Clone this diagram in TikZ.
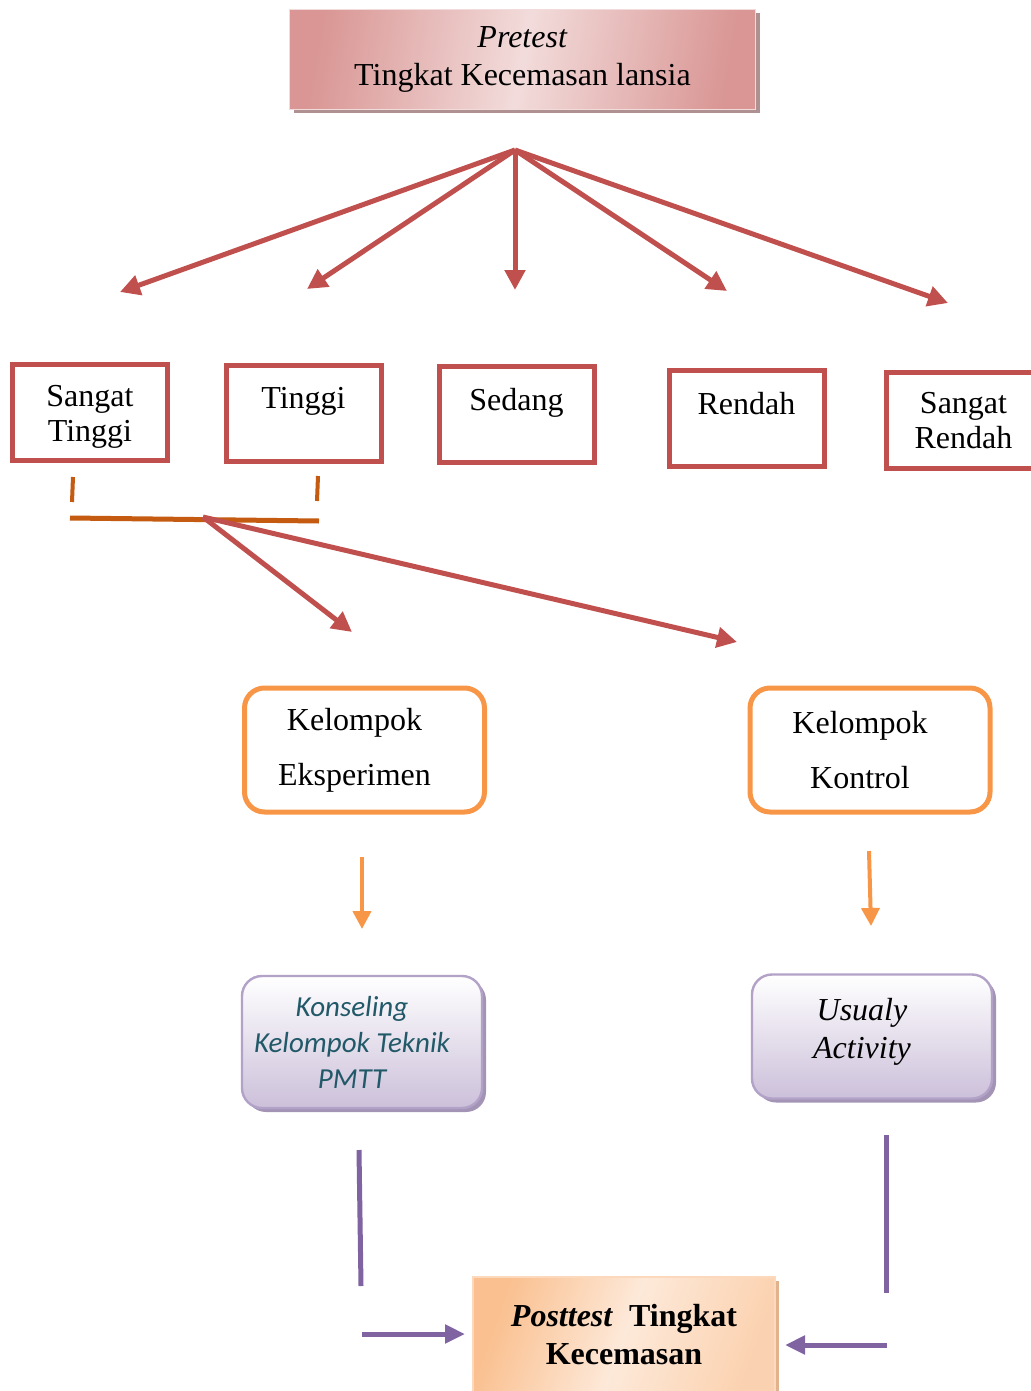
\documentclass[tikz,border=0pt]{standalone}
\usepackage{fontspec}
\setmainfont{Liberation Serif}
\newfontfamily\calibrifont{Carlito}
\usetikzlibrary{arrows.meta,shadows}
\definecolor{boxred}{HTML}{C0504D}
\definecolor{tickorange}{HTML}{C55A11}
\definecolor{boxorange}{HTML}{F79646}
\definecolor{linepurple}{HTML}{8064A2}
\definecolor{edgepurple}{HTML}{B3A2C7}
\definecolor{fillpurple}{HTML}{CCC0DA}
\definecolor{shadepurple}{HTML}{A394B6}
\definecolor{pinkdark}{HTML}{D99694}
\definecolor{pinklight}{HTML}{F2DCDB}
\definecolor{pinkshade}{HTML}{B09192}
\definecolor{peachdark}{HTML}{FAC090}
\definecolor{peachlight}{HTML}{FDE9D9}
\definecolor{tealtext}{HTML}{215968}
\def\levelw{77.5pt}
\def\levelh{48pt}
\def\nudge{\kern10pt}
\begin{document}
\begin{tikzpicture}[x=0.5pt,y=-0.5pt,
  redarrow/.style={boxred,line width=2.5pt,-{Triangle[length=10pt,width=10pt]}},
  orangearrow/.style={boxorange,line width=2pt,-{Triangle[length=9pt,width=9pt]}},
  purplearrow/.style={linepurple,line width=2.5pt,-{Triangle[length=10pt,width=9pt]}},
  levelbox/.style={draw=boxred,line width=2.5pt,minimum width=\levelw,minimum height=\levelh,align=center,inner sep=2pt,font=\fontsize{16}{17.5}\selectfont},
  levelone/.style={levelbox,text depth=15pt},
  leveltop/.style={levelbox,text height=33pt},
  groupbox/.style={draw=boxorange,line width=2.5pt,rounded corners=10pt,minimum width=120pt,minimum height=62pt,align=center,font=\fontsize{16}{27.5}\selectfont},
  actbox/.style={draw=edgepurple,line width=1.2pt,rounded corners=10pt,top color=white,bottom color=fillpurple,minimum width=120pt,align=center,drop shadow={shadow xshift=2pt,shadow yshift=-2pt,fill=shadepurple,opacity=1}}]
\useasboundingbox (0,0) rectangle (1031,1391);
\node[draw=pinklight,line width=0.8pt,minimum width=233pt,minimum height=50pt,align=center,left color=pinkdark,right color=pinkdark,middle color=pinklight,shading angle=80,drop shadow={shadow xshift=2pt,shadow yshift=-2pt,fill=pinkshade,opacity=1},font=\fontsize{16}{19}\selectfont] (pre) at (522.5,59.5) {\textit{Pretest}\\Tingkat Kecemasan lansia};
\coordinate (fan) at (515,150);
\foreach \i/\x/\y in {1/120/292,2/307/289,3/515/290,4/727/291,5/948/303} {
  \coordinate (tip\i) at (\x,\y);
  \draw[redarrow] (fan) -- (tip\i);
}
\foreach \n/\x/\y/\s/\t in {st/90/412/leveltop/{Sangat\\Tinggi},ti/303.5/413/levelone/Tinggi,se/516.5/414/levelone/Sedang,re/746.5/418/levelone/Rendah,sr/963.5/420.5/levelbox/{Sangat\\Rendah}} {
  \node[\s] (\n) at (\x,\y) {\t};
}
\coordinate (tickA1) at (73,477);
\coordinate (tickA2) at (72,502);
\coordinate (tickB1) at (318,476);
\coordinate (tickB2) at (317,501);
\coordinate (joinL) at (70,518);
\coordinate (joinR) at (319,521);
\draw[tickorange,line width=2pt] (tickA1) -- (tickA2);
\draw[tickorange,line width=2pt] (tickB1) -- (tickB2);
\draw[tickorange,line width=2.5pt] (joinL) -- (joinR);
\coordinate (split) at (203,517);
\coordinate (tipE) at (352,632);
\coordinate (tipK) at (737,642);
\draw[redarrow] (split) -- (tipE);
\draw[redarrow] (split) -- (tipK);
\node[groupbox] (eks) at (364.5,750) {Kelompok\nudge\\Eksperimen\nudge};
\node[groupbox] (kon) at (870,750) {Kelompok\nudge\\Kontrol\nudge};
\coordinate (oeA) at (362,857);
\coordinate (oeB) at (362,929);
\coordinate (okA) at (869,851);
\coordinate (okB) at (871,926);
\draw[orangearrow] (oeA) -- (oeB);
\draw[orangearrow] (okA) -- (okB);
\node[actbox,minimum height=66pt,font=\calibrifont\itshape\fontsize{14.5}{18}\selectfont,text=tealtext] (pmtt) at (362,1042) {Konseling\nudge\\Kelompok Teknik\nudge\\PMTT\nudge};
\node[actbox,minimum height=62pt,text depth=8pt,font=\itshape\fontsize{16}{19}\selectfont] (usu) at (872,1036.5) {Usualy\nudge\\Activity\nudge};
\node[draw=peachdark!60,line width=0.6pt,minimum width=151pt,minimum height=58pt,align=center,left color=peachdark,right color=peachdark!55!peachlight,middle color=peachlight,shading angle=70,drop shadow={shadow xshift=2pt,shadow yshift=-2pt,fill=peachdark!80!gray,opacity=1},font=\bfseries\fontsize{16}{19}\selectfont] (post) at (624,1335) {\textit{Posttest}~~Tingkat\\Kecemasan};
\coordinate (plA) at (359,1150);
\coordinate (plB) at (361,1286);
\coordinate (plC) at (362,1334);
\coordinate (plD) at (465,1334);
\coordinate (prA) at (886,1135);
\coordinate (prB) at (886,1293);
\coordinate (prC) at (887,1345);
\coordinate (prD) at (785,1345);
\draw[linepurple,line width=2.5pt] (plA) -- (plB);
\draw[purplearrow] (plC) -- (plD);
\draw[linepurple,line width=2.5pt] (prA) -- (prB);
\draw[purplearrow] (prC) -- (prD);
\end{tikzpicture}
\end{document}
